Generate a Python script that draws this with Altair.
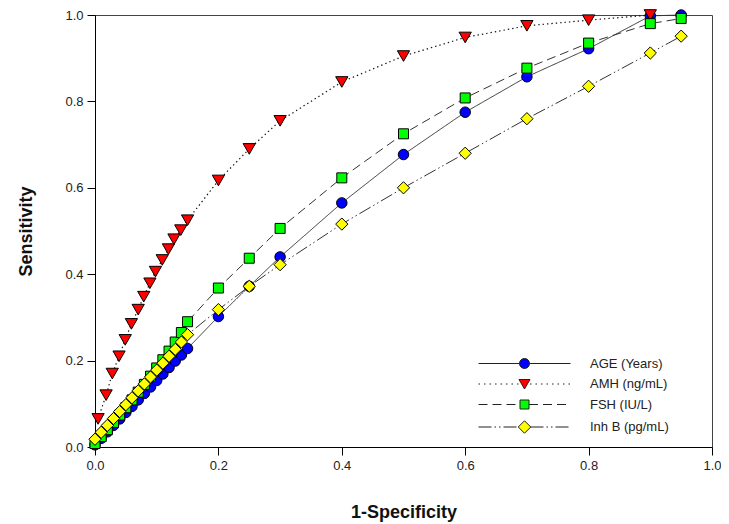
import altair as alt
import pandas as pd

# ---------------- data ----------------
series_names = ["AGE (Years)", "AMH (ng/mL)", "FSH (IU/L)", "Inh B (pg/mL)"]

x_small = [0.00, 0.01, 0.02, 0.03, 0.04, 0.05, 0.06, 0.07, 0.08, 0.09,
           0.10, 0.11, 0.12, 0.13, 0.14, 0.15]
x_large = [0.20, 0.25, 0.30, 0.40, 0.50, 0.60, 0.70, 0.80, 0.90, 0.95]

age_small = [0.005, 0.020, 0.035, 0.050, 0.065, 0.080, 0.094, 0.109, 0.124,
             0.139, 0.154, 0.169, 0.184, 0.199, 0.213, 0.228]
age_large = [0.302, 0.372, 0.440, 0.565, 0.677, 0.775, 0.857, 0.922, 0.998, 1.000]

amh_x = [0.005, 0.018, 0.028, 0.039, 0.049, 0.059, 0.070, 0.079, 0.089, 0.098,
         0.109, 0.119, 0.128, 0.139, 0.150,
         0.20, 0.25, 0.30, 0.40, 0.50, 0.60, 0.70, 0.80, 0.90]
amh_y = [0.065, 0.120, 0.170, 0.210, 0.248, 0.285, 0.318, 0.348, 0.379, 0.406,
         0.433, 0.458, 0.481, 0.502, 0.525,
         0.617, 0.690, 0.755, 0.845, 0.905, 0.948, 0.975, 0.988, 1.000]

fsh_small = [0.008, 0.024, 0.040, 0.057, 0.074, 0.091, 0.109, 0.127, 0.145,
             0.164, 0.183, 0.202, 0.222, 0.243, 0.265, 0.290]
fsh_large = [0.368, 0.437, 0.506, 0.623, 0.725, 0.808, 0.877, 0.935, 0.980, 0.992]

inhb_small = [0.018, 0.034, 0.050, 0.066, 0.082, 0.098, 0.114, 0.130, 0.146,
              0.162, 0.178, 0.194, 0.210, 0.226, 0.243, 0.260]
inhb_large = [0.318, 0.372, 0.422, 0.516, 0.600, 0.680, 0.760, 0.835, 0.912, 0.951]

colors = ["#0000ff", "#ff0000", "#00ff00", "#ffff00"]
shapes = ["circle", "triangle-down", "square", "diamond"]
sizes = [110, 150, 100, 150]
dashes = [[1, 0], [1.4, 3], [9, 5], [13, 3, 1.5, 3, 1.5, 3]]
line_colors = ["#333333", "#111111", "#333333", "#333333"]
line_widths = [1, 1.2, 1, 1]

series_x = [x_small + x_large, amh_x, x_small + x_large, x_small + x_large]
series_y = [age_small + age_large, amh_y, fsh_small + fsh_large, inhb_small + inhb_large]

FONT = "Liberation Sans"


# ---------------- legend glyphs (line pattern + marker) ----------------
def pattern_path(pattern, start, end):
    out = []
    pos = start
    i = 0
    while pos < end - 1e-9:
        on = pattern[i % len(pattern)][0]
        off = pattern[i % len(pattern)][1]
        seg_end = min(pos + on, end)
        out.append("M%.2f,0L%.2f,0" % (pos, seg_end))
        pos = seg_end + off
        i += 1
    return "".join(out)


def glyph(pattern, edge, marker):
    return pattern_path(pattern, -9.2, -edge) + pattern_path(pattern, edge, 9.2) + marker


legend_paths = [
    glyph([(20, 0)], 1.0, "M-1,0A1,1,0,1,1,1,0A1,1,0,1,1,-1,0Z"),
    glyph([(0.3, 0.8)], 1.1, "M-1.1,-0.9L1.1,-0.9L0,1Z"),
    glyph([(1.8, 1.0)], 0.9, "M-0.9,-0.9L0.9,-0.9L0.9,0.9L-0.9,0.9Z"),
    glyph([(2.6, 0.6), (0.3, 0.6), (0.3, 0.6)], 1.2, "M0,-1.25L1.25,0L0,1.25L-1.25,0Z"),
]

# ---------------- chart ----------------
xscale = alt.Scale(domain=[0, 1], nice=False, zero=False)
yscale = alt.Scale(domain=[0, 1], nice=False, zero=False)

xaxis = alt.Axis(values=[0, 0.2, 0.4, 0.6, 0.8, 1.0], format=".1f", title="1-Specificity",
                 labelFlush=False, titleY=70, titleBaseline="alphabetic")
yaxis = alt.Axis(values=[0, 0.2, 0.4, 0.6, 0.8, 1.0], format=".1f", title="Sensitivity",
                 labelFlush=False, titleX=-64, titleY=216, titleAngle=-90,
                 titleAlign="center", titleBaseline="alphabetic")

layers = []
for i, name in enumerate(series_names):
    df = pd.DataFrame({"x": series_x[i], "y": series_y[i], "series": name})
    enc = dict(x=alt.X("x:Q", scale=xscale, axis=xaxis),
               y=alt.Y("y:Q", scale=yscale, axis=yaxis))
    line = alt.Chart(df).mark_line(color=line_colors[i], strokeWidth=line_widths[i],
                                   strokeDash=dashes[i]).encode(**enc)
    pts = alt.Chart(df).mark_point(filled=True, fill=colors[i], stroke="#000000",
                                   strokeWidth=1, opacity=1, shape=shapes[i],
                                   size=sizes[i]).encode(**enc)
    layers += [line, pts]

legend_df = pd.DataFrame({"x": [0.0] * 4, "y": [0.0] * 4, "series": series_names})
leg = alt.Legend(title=None)
legend_layer = alt.Chart(legend_df).transform_filter("datum.x > 5").mark_point(
    filled=True, strokeWidth=1, opacity=1
).encode(
    x=alt.X("x:Q", scale=xscale, axis=xaxis),
    y=alt.Y("y:Q", scale=yscale, axis=yaxis),
    shape=alt.Shape("series:N", scale=alt.Scale(domain=series_names, range=legend_paths),
                    legend=leg),
    fill=alt.Fill("series:N", scale=alt.Scale(domain=series_names, range=colors),
                  legend=leg),
    stroke=alt.Stroke("series:N",
                      scale=alt.Scale(domain=series_names, range=["#222222"] * 4),
                      legend=leg),
)
layers.append(legend_layer)

chart = alt.layer(*layers).properties(
    width=617, height=432,
    autosize=alt.AutoSizeParams(type="none"),
    padding={"left": 87, "top": 7, "right": 9, "bottom": 76},
).configure_view(
    stroke="#444444", strokeWidth=1
).configure_axis(
    grid=False, domainColor="#000000", domainWidth=1, tickColor="#000000", tickWidth=1,
    tickSize=8, labelFont=FONT, labelFontSize=13, labelColor="#222222", labelPadding=4,
    titleFont=FONT, titleFontSize=18, titleFontWeight="bold", titleColor="#111111",
).configure_legend(
    orient="none", legendX=423, legendY=342, padding=0, symbolSize=100,
    symbolStrokeWidth=1, symbolOpacity=1,
    labelOffset=59, labelFont=FONT, labelFontSize=13, labelColor="#222222",
    rowPadding=6.5,
)

chart.save("out.html", embed_options={"renderer": "svg", "actions": False})
